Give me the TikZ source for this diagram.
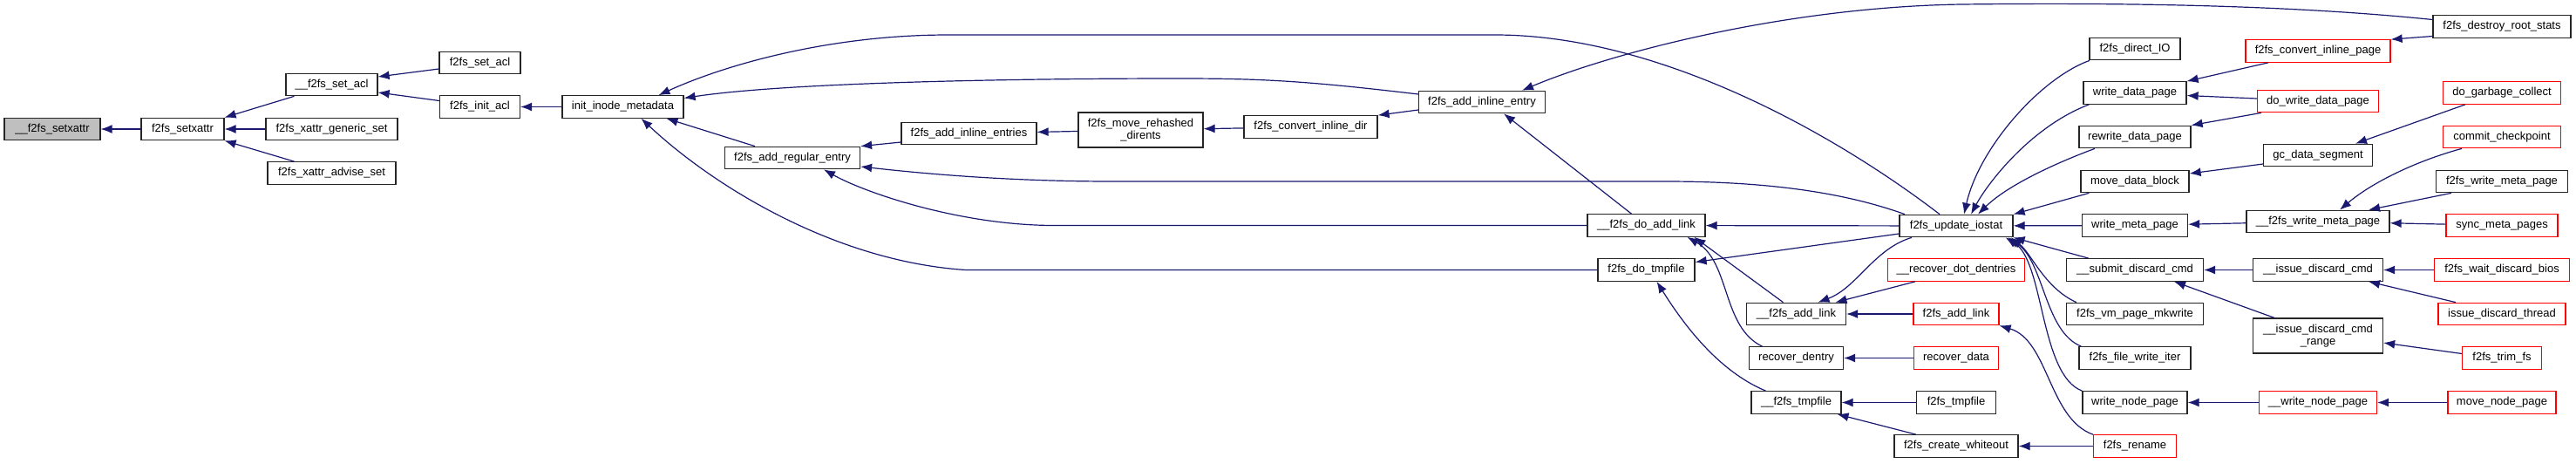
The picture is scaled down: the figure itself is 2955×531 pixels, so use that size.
\documentclass[tikz,border=0pt]{standalone}
\usepackage{fontspec}
\setmainfont{Liberation Sans}
\usepackage{tikz}
\usetikzlibrary{arrows.meta}

\definecolor{edgeblue}{RGB}{25,25,112}
\definecolor{hitgray}{RGB}{191,191,191}

\begin{document}
\begin{tikzpicture}[x=1pt, y=-1pt,
    fn/.style={draw=black!85, fill=white, line width=1.2pt, inner sep=0pt, minimum height=25.5pt, align=center, font=\fontsize{13}{14.5}\selectfont},
    fnred/.style={fn, draw=red},
    fnhit/.style={fn, fill=hitgray},
    arrow/.style={-{Latex[length=13pt, width=10pt]}, draw=edgeblue, line width=1.2pt}
]
\useasboundingbox (0,0) rectangle (2955,531);

% Left part: xattr and acl
\node[fnhit, minimum width=110pt] (setxattrU) at (60,148) {\_\_f2fs\_setxattr};
\node[fn, minimum width=95pt] (setxattr) at (209.5,148) {f2fs\_setxattr};
\node[fn, minimum width=105pt] (setaclU) at (380.5,97) {\_\_f2fs\_set\_acl};
\node[fn, minimum width=151pt] (xattrgen) at (380.5,148) {f2fs\_xattr\_generic\_set};
\node[fn, minimum width=147pt] (xattradv) at (380.5,198.5) {f2fs\_xattr\_advise\_set};
\node[fn, minimum width=93pt] (setacl) at (550.5,72) {f2fs\_set\_acl};
\node[fn, minimum width=92pt] (initacl) at (550.5,122.5) {f2fs\_init\_acl};
\node[fn, minimum width=139pt] (initmeta) at (714.5,122.5) {init\_inode\_metadata};
\draw[arrow] (setxattr) -- (setxattrU);
\draw[arrow] ([xshift=-43pt]setaclU.south) -- (setxattr.north east);
\draw[arrow] (xattrgen) -- (setxattr);
\draw[arrow] ([xshift=-43pt]xattradv.north) -- (setxattr.south east);
\draw[arrow] ([yshift=-7pt]setacl.west) -- ([yshift=9pt]setaclU.east);
\draw[arrow] ([yshift=7pt]initacl.west) -- ([yshift=-9pt]setaclU.east);
\draw[arrow] (initacl.west -| initmeta.west) -- (initacl);

% Middle part: inline dentries
\node[fn, minimum width=155pt] (addregular) at (909,181) {f2fs\_add\_regular\_entry};
\node[fn, minimum width=155pt] (addinlines) at (1111.5,153) {f2fs\_add\_inline\_entries};
\node[fn, minimum width=143pt, minimum height=40pt] (moverehash) at (1308.5,149) {f2fs\_move\_rehashed\\\_dirents};
\node[fn, minimum width=153pt] (convdir) at (1503.5,145.5) {f2fs\_convert\_inline\_dir};
\node[fn, minimum width=145pt] (addinline) at (1700,117) {f2fs\_add\_inline\_entry};
\node[fn, minimum width=135pt] (doaddlink) at (1888.5,258.5) {\_\_f2fs\_do\_add\_link};
\node[fn, minimum width=111pt] (dotmpfile) at (1888.5,309.5) {f2fs\_do\_tmpfile};
\draw[arrow] ([xshift=-43pt]addregular.north) -- ([xshift=50pt]initmeta.south);
\draw[arrow] ([yshift=-10pt]addinlines.west) -- (addregular.north east);
\draw[arrow] (moverehash) -- (addinlines);
\draw[arrow] (convdir) -- (moverehash);
\draw[arrow] ([yshift=-9pt]addinline.west) -- (convdir.north east);
\draw[arrow] ([yshift=9pt]addinline.west) .. controls (1500,93) and (1450,90) .. (1353,90)
    .. controls (1150,90) and (900,95) .. ([yshift=10pt]initmeta.east);
\draw[arrow] (dotmpfile.west) -- (1108,309.5) .. controls (960,300) and (820,215) .. ([xshift=21pt]initmeta.south);
\draw[arrow] (doaddlink.west) -- (1210,258.5) .. controls (1100,258.5) and (990,220) .. ([xshift=36pt]addregular.south);
\draw[arrow] ([xshift=-17pt]doaddlink.north) -- ([xshift=25pt]addinline.south);

% Link and tmpfile helpers
\node[fn, minimum width=114pt] (addlinkU) at (2060.5,360) {\_\_f2fs\_add\_link};
\node[fn, minimum width=108pt] (recdentry) at (2060.5,410.5) {recover\_dentry};
\node[fn, minimum width=103pt] (tmpfileU) at (2060.5,461.5) {\_\_f2fs\_tmpfile};
\draw[arrow] ([xshift=-15pt]addlinkU.north) -- ([xshift=55pt]doaddlink.south);
\draw[arrow] ([xshift=-39pt]recdentry.north) .. controls (1975,375) and (1985,300) .. ([xshift=47pt]doaddlink.south);
\draw[arrow] ([xshift=-35pt]tmpfileU.north) .. controls (1970,425) and (1930,370) .. ([xshift=12pt]dotmpfile.south);

% f2fs_update_iostat column
\node[fn, minimum width=130pt] (updiostat) at (2244,259) {f2fs\_update\_iostat};
\node[fnred, minimum width=157pt] (recdot) at (2244,309.5) {\_\_recover\_dot\_dentries};
\node[fnred, minimum width=98pt] (addlink) at (2244,360) {f2fs\_add\_link};
\node[fnred, minimum width=97pt] (recdata) at (2244,410.5) {recover\_data};
\node[fn, minimum width=91pt] (tmpfile) at (2244,461.5) {f2fs\_tmpfile};
\node[fn, minimum width=142pt] (whiteout) at (2244,511.5) {f2fs\_create\_whiteout};
\draw[arrow] ([xshift=-19pt]updiostat.north) .. controls (2100,150) and (1900,40) .. (1715,40)
    -- (1088,40) .. controls (950,40) and (830,75) .. ([xshift=41pt]initmeta.north);
\draw[arrow] ([xshift=-59pt]updiostat.north) .. controls (2100,215) and (2000,208) .. (1909,208)
    -- (1276,208) .. controls (1150,208) and (1050,198) .. ([yshift=-10pt]addregular.east);
\draw[arrow] (updiostat) -- (doaddlink);
\draw[arrow] ([yshift=-9pt]updiostat.west) -- ([yshift=9pt]dotmpfile.east);
\draw[arrow] ([xshift=-51pt]updiostat.south) .. controls (2150,285) and (2130,330) .. ([xshift=25pt]addlinkU.north);
\draw[arrow] ([xshift=-47pt]recdot.south) -- ([xshift=45pt]addlinkU.north);
\draw[arrow] (addlink) -- (addlinkU);
\draw[arrow] (recdata) -- (recdentry);
\draw[arrow] (tmpfile) -- (tmpfileU);
\draw[arrow] ([xshift=-46pt]whiteout.north) -- ([xshift=47pt]tmpfileU.south);

% Callers of f2fs_update_iostat
\node[fn, minimum width=104pt] (directio) at (2449,56) {f2fs\_direct\_IO};
\node[fn, minimum width=118pt] (writedata) at (2449,106.5) {write\_data\_page};
\node[fn, minimum width=128pt] (rewritedata) at (2449,157) {rewrite\_data\_page};
\node[fn, minimum width=124pt] (movedata) at (2449,208) {move\_data\_block};
\node[fn, minimum width=121pt] (writemeta) at (2449,258.5) {write\_meta\_page};
\node[fn, minimum width=157pt] (submitdisc) at (2449,309.5) {\_\_submit\_discard\_cmd};
\node[fn, minimum width=157pt] (vmmkwrite) at (2449,360) {f2fs\_vm\_page\_mkwrite};
\node[fn, minimum width=128pt] (filewrite) at (2449,410.5) {f2fs\_file\_write\_iter};
\node[fn, minimum width=120pt] (writenode) at (2449,461.5) {write\_node\_page};
\node[fnred, minimum width=95pt] (rename) at (2449,511.5) {f2fs\_rename};
\draw[arrow] ([xshift=-52pt]directio.south) .. controls (2340,90) and (2270,170) .. ([xshift=9pt]updiostat.north);
\draw[arrow] ([xshift=7pt]writedata.south west) .. controls (2330,145) and (2280,210) .. ([xshift=17pt]updiostat.north);
\draw[arrow] ([xshift=-46pt]rewritedata.south) .. controls (2350,190) and (2300,215) .. ([xshift=25pt]updiostat.north);
\draw[arrow] ([xshift=10pt]movedata.south west) -- (updiostat.north east);
\draw[arrow] (writemeta) -- (updiostat);
\draw[arrow] ([xshift=26pt]submitdisc.north west) -- (updiostat.south east);
\draw[arrow] ([xshift=12pt]vmmkwrite.north west) .. controls (2345,330) and (2330,290) .. ([xshift=-3pt]updiostat.south east);
\draw[arrow] ([xshift=3pt]filewrite.north west) .. controls (2345,380) and (2345,300) .. ([xshift=-6pt]updiostat.south east);
\draw[arrow] (writenode.north west) .. controls (2340,430) and (2345,300) .. ([xshift=-9pt]updiostat.south east);
\draw[arrow] (rename.north west) .. controls (2350,480) and (2350,390) .. (addlink.south east);
\draw[arrow] (rename) -- (whiteout);

% Next column
\node[fnred, minimum width=166pt] (convpage) at (2659,58.5) {f2fs\_convert\_inline\_page};
\node[fnred, minimum width=139pt] (dowritedata) at (2659,116) {do\_write\_data\_page};
\node[fn, minimum width=125pt] (gcdata) at (2659,178) {gc\_data\_segment};
\node[fn, minimum width=164pt] (writemetaU) at (2659,254) {\_\_f2fs\_write\_meta\_page};
\node[fn, minimum width=149pt] (issuedisc) at (2659,309.5) {\_\_issue\_discard\_cmd};
\node[fn, minimum width=149pt, minimum height=40pt] (issuerange) at (2659,385) {\_\_issue\_discard\_cmd\\\_range};
\node[fnred, minimum width=135pt] (writenodeU) at (2659,461.5) {\_\_write\_node\_page};
\draw[arrow] ([xshift=-57pt]convpage.south) -- (writedata.north east);
\draw[arrow] ([yshift=3pt]dowritedata.west) -- ([yshift=-3pt]writedata.east);
\draw[arrow] ([xshift=-65pt]dowritedata.south) -- (rewritedata.north east);
\draw[arrow] ([yshift=-10pt]gcdata.west) -- ([yshift=9pt]movedata.east);
\draw[arrow] (writemetaU) -- (writemeta);
\draw[arrow] (issuedisc) -- (submitdisc);
\draw[arrow] ([xshift=-50pt]issuerange.north) -- ([xshift=45pt]submitdisc.south);
\draw[arrow] (writenodeU) -- (writenode);

% Rightmost column
\node[fn, minimum width=158pt] (destroystats) at (2870,30.5) {f2fs\_destroy\_root\_stats};
\node[fnred, minimum width=135pt] (dogc) at (2870,106.5) {do\_garbage\_collect};
\node[fnred, minimum width=135pt] (commitcp) at (2870,157) {commit\_checkpoint};
\node[fn, minimum width=151pt] (f2fswritemeta) at (2870,208) {f2fs\_write\_meta\_page};
\node[fnred, minimum width=128pt] (syncmeta) at (2870,258.5) {sync\_meta\_pages};
\node[fnred, minimum width=155pt] (waitdisc) at (2870,309.5) {f2fs\_wait\_discard\_bios};
\node[fnred, minimum width=146pt] (issuethread) at (2870,360) {issue\_discard\_thread};
\node[fnred, minimum width=91pt] (trimfs) at (2870,410.5) {f2fs\_trim\_fs};
\node[fnred, minimum width=124pt] (movenode) at (2870,461.5) {move\_node\_page};
\draw[arrow] ([yshift=8pt]destroystats.west) .. controls (2620,5) and (2420,3) .. (2250,5)
    .. controls (2050,8) and (1850,60) .. ([xshift=46pt]addinline.north);
\draw[arrow] ([yshift=-11pt]destroystats.west) -- (convpage.north east);
\draw[arrow] ([xshift=-42pt]dogc.south) -- ([xshift=43pt]gcdata.north);
\draw[arrow] ([xshift=-46pt]commitcp.south) .. controls (2770,185) and (2720,210) .. ([xshift=25pt]writemetaU.north);
\draw[arrow] ([xshift=-58pt]f2fswritemeta.south) -- ([xshift=58pt]writemetaU.north);
\draw[arrow] (syncmeta) -- (writemetaU);
\draw[arrow] (waitdisc) -- (issuedisc);
\draw[arrow] ([xshift=-53pt]issuethread.north) -- ([xshift=58pt]issuedisc.south);
\draw[arrow] ([yshift=5pt]trimfs.west) -- ([yshift=-8pt]issuerange.east);
\draw[arrow] (movenode) -- (writenodeU);
\end{tikzpicture}
\end{document}
